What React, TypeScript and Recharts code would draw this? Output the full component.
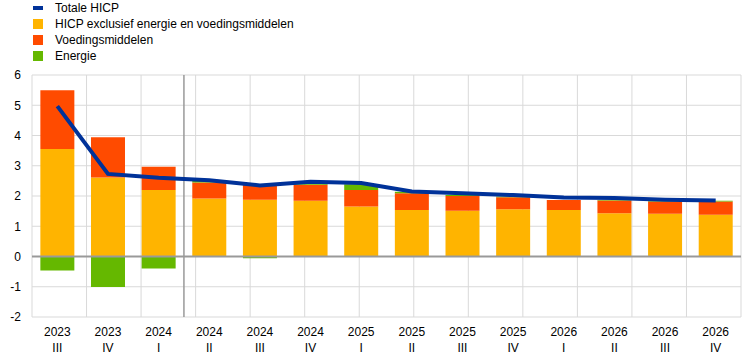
import { Bar, CartesianGrid, ComposedChart, Line, ReferenceLine, XAxis, YAxis } from "recharts";

const quarters = [
	"2023 III", "2023 IV", "2024 I", "2024 II", "2024 III", "2024 IV", "2025 I",
	"2025 II", "2025 III", "2025 IV", "2026 I", "2026 II", "2026 III", "2026 IV",
];
const core = [3.55, 2.61, 2.2, 1.92, 1.88, 1.84, 1.65, 1.54, 1.51, 1.56, 1.54, 1.43, 1.41, 1.38];
const food = [1.95, 1.33, 0.77, 0.53, 0.48, 0.53, 0.55, 0.55, 0.49, 0.4, 0.33, 0.42, 0.41, 0.44];
const energy = [-0.46, -1.01, -0.4, 0.07, -0.06, 0.05, 0.19, 0.05, 0.03, 0.02, 0.0, 0.02, 0.02, 0.02];
const total = [4.97, 2.73, 2.6, 2.52, 2.35, 2.47, 2.43, 2.15, 2.09, 2.03, 1.95, 1.93, 1.88, 1.85];
const yTicks = [-2, -1, 0, 1, 2, 3, 4, 5, 6];
const gridTicks = [0, 1, 2, 3, 4, 5, 6, 7, 8, 9, 10, 11, 12, 13, 14];
// last quarter of realised data, projections start after it
const lastActual = "2024 I";

const BLUE = "#003299";
const YELLOW = "#ffb400";
const RED = "#ff4b00";
const GREEN = "#65b800";
const FONT = "'Liberation Sans', Arial, sans-serif";

const data = quarters.map((q, i) => ({
	q,
	core: core[i],
	food: food[i],
	energy: energy[i],
	total: total[i],
}));

const legendItems = [
	{ label: "Totale HICP", color: BLUE, line: true },
	{ label: "HICP exclusief energie en voedingsmiddelen", color: YELLOW },
	{ label: "Voedingsmiddelen", color: RED },
	{ label: "Energie", color: GREEN },
];

const QuarterTick = ({ x, y, payload }: any) => {
	const [year, qtr] = String(payload.value).split(" ");
	return (
		<text x={x} y={y} textAnchor="middle" fill="#000" fontSize={12} fontFamily={FONT}>
			<tspan x={x} dy={11}>{year}</tspan>
			<tspan x={x} dy={16}>{qtr}</tspan>
		</text>
	);
};

const App = () => {
	return (
		<div style={{ position: "relative", width: 744, height: 357, fontFamily: FONT }}>
			<style>{"body{margin:0}"}</style>
			<div style={{ position: "absolute", left: 33, top: 0, zIndex: 1 }}>
				{legendItems.map((it) => (
					<div key={it.label} style={{ display: "flex", alignItems: "center", height: 16, fontSize: 12 }}>
						<span
							style={{
								display: "inline-block",
								width: 10,
								height: it.line ? 4 : 10,
								background: it.color,
								marginRight: 12,
							}}
						/>
						<span>{it.label}</span>
					</div>
				))}
			</div>
			<ComposedChart
				width={744}
				height={357}
				data={data}
				stackOffset="sign"
				barCategoryGap="16.5%"
				margin={{ top: 75, right: 3, bottom: 0, left: 0 }}>
				<CartesianGrid xAxisId="grid" stroke="#d9d9d9" strokeWidth={1} />
				<XAxis
					dataKey="q"
					tick={<QuarterTick />}
					tickLine={false}
					axisLine={false}
					interval={0}
					height={40}
				/>
				<XAxis xAxisId="grid" type="number" domain={[0, 14]} ticks={gridTicks} hide />
				<YAxis
					domain={[-2, 6]}
					ticks={yTicks}
					width={32}
					tickLine={false}
					axisLine={false}
					tickMargin={5}
					tick={{ fill: "#000", fontSize: 12, fontFamily: FONT }}
				/>
				<Bar dataKey="core" stackId="a" fill={YELLOW} isAnimationActive={false} />
				<Bar dataKey="food" stackId="a" fill={RED} isAnimationActive={false} />
				<Bar dataKey="energy" stackId="a" fill={GREEN} isAnimationActive={false} />
				<ReferenceLine y={0} stroke="#999" strokeWidth={2} />
				<ReferenceLine x={lastActual} position="end" stroke="#999" strokeWidth={1.5} />
				<Line
					dataKey="total"
					stroke={BLUE}
					strokeWidth={4}
					dot={false}
					isAnimationActive={false}
				/>
			</ComposedChart>
		</div>
	);
};

export default App;
